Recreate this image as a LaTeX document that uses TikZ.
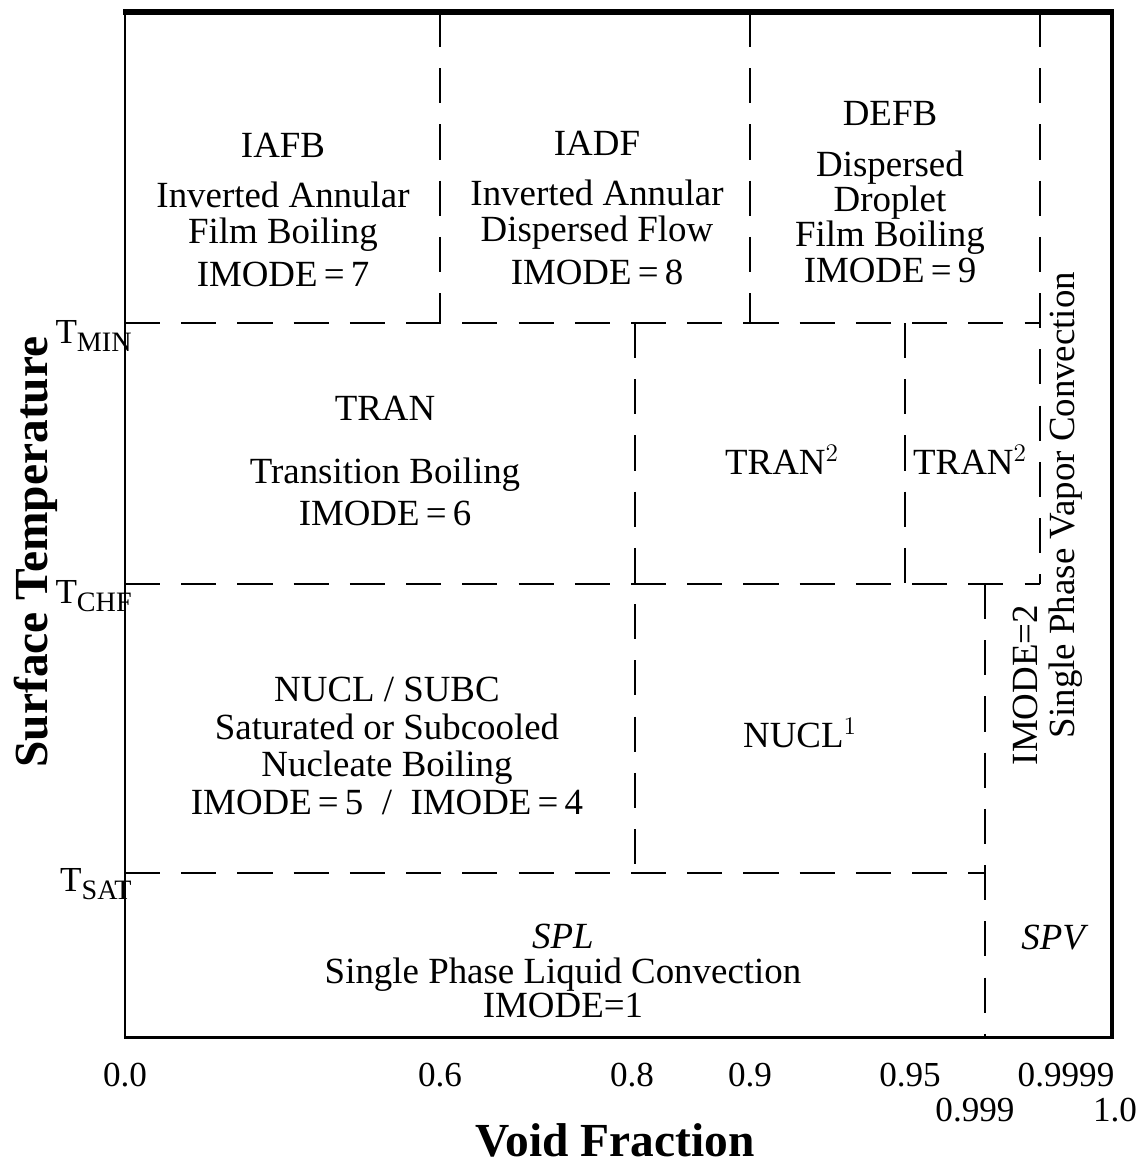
\documentclass[tikz,border=0pt]{standalone}
\usepackage{fontspec}
\setmainfont{Liberation Serif}
\usetikzlibrary{positioning}

\newcommand{\tlevel}[1]{T\raisebox{-0.45ex}{\fontsize{16}{16}\selectfont #1}}

\begin{document}
\begin{tikzpicture}[x=0.02cm, y=-0.02cm,
    region/.style={align=center, font=\fontsize{21}{23}\selectfont},
    tick/.style={font=\fontsize{20}{23}\selectfont},
    axis/.style={font=\fontsize{27}{30}\selectfont\bfseries},
    bound/.style={line width=1.5pt, dash pattern=on 20pt off 12pt}
]
    \useasboundingbox (0,0) rectangle (1138,1164);

    % Frame
    \draw[line width=1.7pt] (125,12) rectangle (1112,1037);
    \draw[line width=3.4pt] (123,12) -- (1114,12);
    \draw[line width=2.8pt] (1112,12) -- (1112,1038);

    % Temperature limits
    \draw[bound] (125,323) -- (1040,323);
    \draw[bound] (125,584) -- (1040,584);
    \draw[bound] (125,873) -- (985,873);

    % Void fraction limits
    \draw[bound] (440,12) -- (440,323);
    \draw[bound] (750,12) -- (750,323);
    \draw[bound] (1040,12) -- (1040,584);
    \draw[bound] (635,323) -- (635,873);
    \draw[bound] (905,323) -- (905,584);
    \draw[bound] (985,584) -- (985,1037);

    % Film boiling regimes
    \node[region] (iafb) at (283,210) {IAFB\\[5pt] Inverted Annular\\[-2pt] Film Boiling\\[1pt] IMODE\,=\,7};
    \node[region] (iadf) at (597,208) {IADF\\[5pt] Inverted Annular\\[-2pt] Dispersed Flow\\[1pt] IMODE\,=\,8};
    \node[region] (defb) at (890,192) {DEFB\\[6pt] Dispersed\\[-3pt] Droplet\\[-3pt] Film Boiling\\[-3pt] IMODE\,=\,9};

    % Transition boiling
    \node[region] (tran) at (385,461) {TRAN\\[13pt] Transition Boiling\\[1pt] IMODE\,=\,6};
    \node[region] (tranA) at (782,460) {TRAN$^2$};
    \node[region] (tranB) at (970,460) {TRAN$^2$};

    % Nucleate boiling
    \node[region] (nucl) at (387,746) {NUCL / SUBC\\[-1.5pt] Saturated or Subcooled\\[-1.5pt] Nucleate Boiling\\[-1.5pt] IMODE\,=\,5 \ / \ IMODE\,=\,4};
    \node[region] (nuclA) at (800,733) {NUCL$^1$};

    % Single phase
    \node[region] (spl) at (563,971) {\textit{SPL}\\[-3.5pt] Single Phase Liquid Convection\\[-3.5pt] IMODE=1};
    \node[region] (spv) at (1055,938) {\textit{SPV}};
    \node[region, rotate=90] (imode2) at (1025,685) {IMODE=2};
    \node[region, rotate=90] (spvc) at (1066,505) {Single Phase Vapor Convection};

    % Temperature levels
    \node[tick, anchor=east, inner xsep=0pt] (tmin) at (132,336) {\tlevel{MIN}};
    \node[tick, anchor=east, inner xsep=0pt] (tchf) at (132,596) {\tlevel{CHF}};
    \node[tick, anchor=east, inner xsep=0pt] (tsat) at (132,884) {\tlevel{SAT}};

    % Void fraction values
    \node[tick] (v00) at (125,1075) {0.0};
    \node[tick] (v06) at (440,1075) {0.6};
    \node[tick] (v08) at (632,1075) {0.8};
    \node[tick] (v09) at (750,1075) {0.9};
    \node[tick] (v095) at (910,1075) {0.95};
    \node[tick] (v09999) at (1066,1075) {0.9999};
    \node[tick] (v0999) at (975,1110) {0.999};
    \node[tick] (v10) at (1115,1110) {1.0};

    % Axis titles
    \node[axis] (xlabel) at (615,1140) {Void Fraction};
    \node[axis, rotate=90] (ylabel) at (36,552) {Surface Temperature};
\end{tikzpicture}
\end{document}
